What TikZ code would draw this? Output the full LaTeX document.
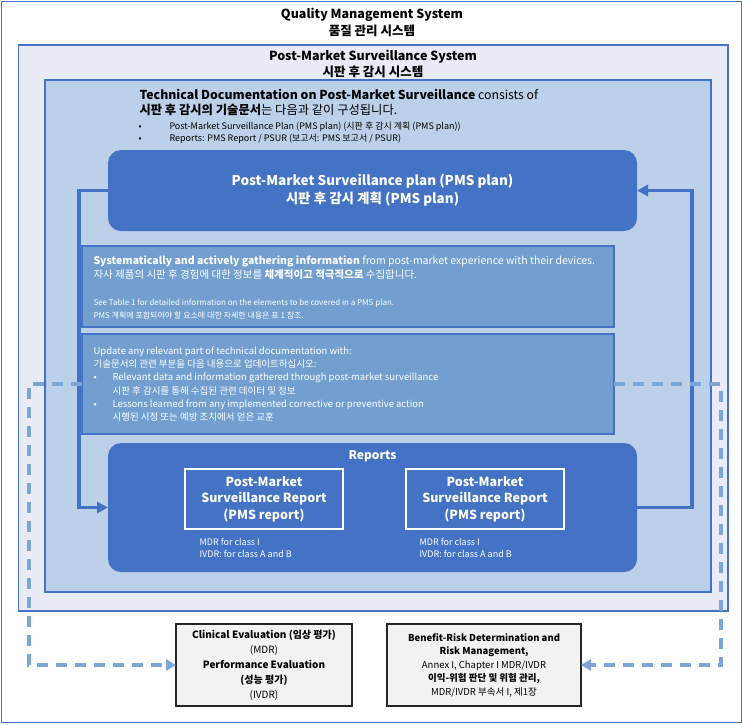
\documentclass[tikz,border=0pt]{standalone}
\usepackage{fontspec}
\setmainfont{Noto Sans CJK KR}
\usepackage{tikz}
\usetikzlibrary{arrows.meta, positioning}
\definecolor{pmsblue}{RGB}{68,114,196}
\definecolor{sysfill}{RGB}{233,236,246}
\definecolor{docfill}{RGB}{189,208,233}
\definecolor{infofill}{RGB}{114,159,207}
\definecolor{dashblue}{RGB}{125,166,214}
\definecolor{greyfill}{RGB}{242,242,242}

\begin{document}
\begin{tikzpicture}[
    x=1pt, y=-1pt,
    >={Triangle[length=11pt, width=11pt]},
    frame/.style={draw=pmsblue, line width=1.3pt, inner sep=0pt, outer sep=0pt},
    bluebox/.style={fill=pmsblue, rounded corners=13pt, inner sep=0pt, outer sep=0pt, text=white, align=center},
    infobox/.style={fill=infofill, draw=pmsblue, line width=1.3pt, inner sep=0pt, outer sep=0pt},
    reportbox/.style={draw=white, line width=1.1pt, minimum width=158pt, minimum height=60pt, inner sep=0pt, outer sep=0pt, text=white, align=center, font=\fontsize{12.5}{16.5}\selectfont\bfseries},
    evalbox/.style={draw=black!85, fill=greyfill, line width=1.3pt, minimum height=82pt, inner sep=0pt, outer sep=0pt, align=center},
    flow/.style={draw=pmsblue, line width=3.6pt, ->},
    dashflow/.style={draw=dashblue, line width=3.2pt, dash pattern=on 11pt off 8pt, -{Triangle[length=10pt, width=11pt]}},
]
    \useasboundingbox (0,0) rectangle (743,724);

    \node[frame, minimum width=740pt, minimum height=721pt] (qms) at (371.5,362) {};
    \node[font=\fontsize{12.5}{17}\selectfont\bfseries, align=center] (qmstitle) at (372,22) {Quality Management System\\품질 관리 시스템};

    \node[frame, fill=sysfill, minimum width=709.5pt, minimum height=566pt] (pmssys) at (373.25,328) {};
    \node[font=\fontsize{12.5}{16}\selectfont\bfseries, align=center] (pmstitle) at (373,63.5) {Post-Market Surveillance System\\시판 후 감시 시스템};

    \node[frame, fill=docfill, line width=1.7pt, minimum width=666pt, minimum height=512pt] (techdoc) at (378,336) {};
    \node[anchor=west, align=left, font=\fontsize{12.3}{15.5}\selectfont] (tdhead) at (136,102.5) {
        \textbf{Technical Documentation on Post-Market Surveillance} consists of\\
        \textbf{시판 후 감시의 기술문서}는 다음과 같이 구성됩니다.};
    \node[anchor=west, align=left, font=\fontsize{9}{12.5}\selectfont] (tdlist) at (135,133) {
        \makebox[31pt][l]{\textbullet}Post-Market Surveillance Plan (PMS plan) (시판 후 감시 계획 (PMS plan))\\
        \makebox[31pt][l]{\textbullet}Reports: PMS Report / PSUR (보고서: PMS 보고서 / PSUR)};

    \node[bluebox, minimum width=529pt, minimum height=81pt, font=\fontsize{13.5}{18}\selectfont\bfseries] (plan) at (372.5,190.5) {
        Post-Market Surveillance plan (PMS plan)\\
        시판 후 감시 계획 (PMS plan)};

    \node[infobox, minimum width=532pt, minimum height=81pt] (gather) at (348,286.5) {};
    \node[anchor=west, align=left, text=white, font=\fontsize{10.5}{14}\selectfont] (gathertxt) at (90,268) {
        \textbf{Systematically and actively gathering information} from post-market experience with their devices.\\
        자사 제품의 시판 후 경험에 대한 정보를 \textbf{체계적이고 적극적으로} 수집합니다.};
    \node[anchor=west, align=left, text=white, font=\fontsize{8}{13}\selectfont] (gathernote) at (90,309.5) {
        See Table 1 for detailed information on the elements to be covered in a PMS plan.\\
        PMS 계획에 포함되어야 할 요소에 대한 자세한 내용은 표 1 참조.};

    \node[infobox, minimum width=532pt, minimum height=100pt] (update) at (348,384) {};
    \node[anchor=west, align=left, text=white, font=\fontsize{9.5}{13.3}\selectfont] (updatetxt) at (90,384) {
        Update any relevant part of technical documentation with:\\
        기술문서의 관련 부분을 다음 내용으로 업데이트하십시오:\\
        \makebox[19pt][l]{\textbullet}Relevant data and information gathered through post-market surveillance\\
        \hspace*{19pt}시판 후 감시를 통해 수집된 관련 데이터 및 정보\\
        \makebox[19pt][l]{\textbullet}Lessons learned from any implemented corrective or preventive action\\
        \hspace*{19pt}시행된 시정 또는 예방 조치에서 얻은 교훈};

    \node[bluebox, minimum width=529pt, minimum height=129pt] (reports) at (372.5,507.5) {};
    \node[text=white, font=\fontsize{12}{14}\selectfont\bfseries] (reportstitle) at (372.5,456) {Reports};
    \node[reportbox] (reportl) at (264,499) {Post-Market\\Surveillance Report\\(PMS report)};
    \node[reportbox] (reportr) at (485,499) {Post-Market\\Surveillance Report\\(PMS report)};
    \node[anchor=west, align=left, text=white, font=\fontsize{9}{12.5}\selectfont] (classl) at (196,548) {MDR for class I\\IVDR: for class A and B};
    \node[anchor=west, align=left, text=white, font=\fontsize{9}{12.5}\selectfont] (classr) at (416,548) {MDR for class I\\IVDR: for class A and B};

    \node[evalbox, minimum width=176pt, font=\fontsize{10}{15}\selectfont] (clinical) at (264,665) {
        \textbf{Clinical Evaluation (임상 평가)}\\(MDR)\\
        \textbf{Performance Evaluation}\\\textbf{(성능 평가)}\\(IVDR)};
    \node[evalbox, minimum width=194pt, font=\fontsize{9.5}{13.5}\selectfont] (benefit) at (484,665) {
        \textbf{Benefit-Risk Determination and}\\\textbf{Risk Management,}\\
        Annex I, Chapter I MDR/IVDR\\
        \textbf{이익-위험 판단 및 위험 관리,}\\
        MDR/IVDR 부속서 I, 제1장};

    \draw[flow] (plan.west) -- ++(-29,0) |- (reports.west);
    \draw[flow] (reports.east) -- ++(55,0) |- (plan.east);
    \draw[dashflow] (update.west) -- ++(-53,0) |- (clinical.west);
    \draw[dashflow] (update.east) -- ++(107,0) |- (benefit.east);
\end{tikzpicture}
\end{document}
